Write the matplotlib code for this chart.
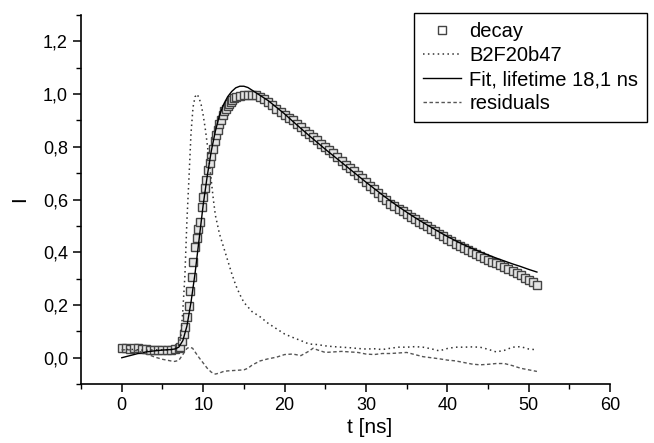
import matplotlib
matplotlib.use("Agg")
import matplotlib.pyplot as plt
import numpy as np
from matplotlib.ticker import MultipleLocator

plt.rcParams['font.family'] = ['Liberation Sans', 'DejaVu Sans']
plt.rcParams['font.size'] = 13

# decay data (open squares)
decay_flat = [0.035, 0.036, 0.034, 0.037, 0.035, 0.033, 0.034, 0.031,
              0.030, 0.029, 0.030, 0.031, 0.030, 0.032, 0.035]
decay_rise = [0.042, 0.062, 0.09, 0.118, 0.155, 0.198, 0.255, 0.305, 0.365,
              0.42, 0.455, 0.49, 0.515, 0.57, 0.61, 0.645, 0.675, 0.712,
              0.74, 0.765, 0.79, 0.822, 0.845, 0.865, 0.885, 0.902, 0.92,
              0.935, 0.944, 0.955, 0.963, 0.972, 0.978, 0.984, 0.988]
decay_tail = [0.994, 0.996, 0.997, 0.998, 0.995, 0.988, 0.982, 0.972, 0.96,
              0.945, 0.932, 0.92, 0.91, 0.90, 0.887, 0.875, 0.862, 0.85,
              0.838, 0.825, 0.812, 0.80, 0.788, 0.775, 0.76, 0.745, 0.733,
              0.72, 0.707, 0.695, 0.68, 0.665, 0.652, 0.64, 0.625, 0.61,
              0.597, 0.585, 0.575, 0.565, 0.555, 0.545, 0.535, 0.525, 0.516,
              0.507, 0.498, 0.49, 0.48, 0.47, 0.46, 0.45, 0.441, 0.433,
              0.425, 0.418, 0.409, 0.40, 0.392, 0.385, 0.378, 0.372, 0.365,
              0.358, 0.35, 0.343, 0.335, 0.328, 0.32, 0.312, 0.303, 0.295,
              0.286, 0.277]
decay_t = np.concatenate([np.arange(0, 7.01, 0.5),
                          np.arange(7.2, 14.01, 0.2),
                          np.arange(14.5, 51.01, 0.5)])
decay = decay_flat + decay_rise + decay_tail

# instrument response B2F20b47 (dotted)
irf_t = [0, 1, 2, 3, 4, 5, 6, 6.5, 7, 7.25, 7.5, 7.75, 8, 8.25, 8.5, 8.75,
         9, 9.25, 9.5, 9.75, 10, 10.25, 10.5, 10.75, 11, 11.25, 11.5, 12,
         12.5, 13, 13.5, 14, 14.5, 15] + list(range(16, 52))
irf = [0.03, 0.032, 0.03, 0.028, 0.03, 0.03, 0.03, 0.032, 0.045,
       0.08, 0.18, 0.31, 0.52, 0.68, 0.85, 0.95, 0.99, 1.0, 0.985, 0.96,
       0.92, 0.87, 0.81, 0.74, 0.67, 0.60, 0.54,
       0.47, 0.42, 0.37, 0.32, 0.275, 0.24, 0.21,
       0.175, 0.155, 0.13, 0.11, 0.09, 0.077, 0.065, 0.052, 0.05, 0.045,
       0.042, 0.04, 0.038, 0.035, 0.033, 0.034, 0.031, 0.036, 0.04, 0.04,
       0.042, 0.04, 0.034, 0.026, 0.035, 0.04, 0.04, 0.041, 0.04, 0.032,
       0.022, 0.028, 0.04, 0.042, 0.033, 0.03]

# fit, lifetime 18,1 ns (solid)
fit_t = [0, 1, 2, 3, 4, 5, 6, 6.5, 7, 7.5, 8, 8.5, 9, 9.5, 10, 10.5, 11,
         11.5, 12, 12.5, 13, 13.5, 14, 14.5, 15, 15.5, 16] + list(range(17, 52))
fit = [0.0, 0.008, 0.016, 0.022, 0.026, 0.029, 0.031, 0.033, 0.04, 0.065,
       0.12, 0.21, 0.32, 0.45, 0.58, 0.69, 0.785, 0.86, 0.92, 0.96, 0.99,
       1.01, 1.024, 1.03, 1.03, 1.025, 1.015,
       0.995, 0.975, 0.95, 0.925, 0.897, 0.87, 0.843, 0.817, 0.791, 0.766,
       0.741, 0.716, 0.691, 0.666, 0.642, 0.618, 0.595, 0.573, 0.552, 0.532,
       0.513, 0.495, 0.477, 0.46, 0.444, 0.429, 0.415, 0.402, 0.39, 0.378,
       0.367, 0.356, 0.346, 0.335, 0.325]

# residuals (dashed)
res_t = [0, 1, 2, 3, 4, 5, 6, 6.5, 7, 7.5, 8, 8.3, 8.7, 9, 9.5, 10, 10.5,
         11, 11.5, 12, 12.5, 13, 14, 15, 15.5, 16, 17, 18, 19, 20, 21, 22,
         23, 23.5] + list(range(24, 52))
res = [0.03, 0.03, 0.026, 0.015, 0.003, -0.006, -0.012,
       -0.014, -0.01, 0.012, 0.035, 0.04, 0.036, 0.022, 0.0, -0.02, -0.04,
       -0.055, -0.062, -0.058, -0.052, -0.05,
       -0.048, -0.046, -0.04, -0.028, -0.012, -0.004, 0.002, 0.012, 0.014,
       0.008, 0.025, 0.036,
       0.03, 0.02, 0.022, 0.024, 0.022, 0.02, 0.014, 0.012, 0.016, 0.016,
       0.018, 0.02, 0.012, 0.004, 0.0, -0.004, -0.009, -0.012, -0.018,
       -0.024, -0.027, -0.025, -0.022, -0.022, -0.03, -0.04, -0.046, -0.052]

y_ticks = [0.0, 0.2, 0.4, 0.6, 0.8, 1.0, 1.2]
y_tick_labels = ["0,0", "0,2", "0,4", "0,6", "0,8", "1,0", "1,2"]
x_ticks = [0, 10, 20, 30, 40, 50, 60]

fig = plt.figure(figsize=(6.54, 4.43), dpi=100)
ax = fig.add_axes([0.124, 0.133, 0.809, 0.833])

ax.plot(decay_t, decay, "s", ms=6.2, mfc="#e4e4e4", mec="#444444", mew=1.0,
        label="decay")
ax.plot(irf_t, irf, color="#333333", lw=1.1, ls=(0, (1, 2.2)),
        label="B2F20b47")
ax.plot(fit_t, fit, color="black", lw=1.0, label="Fit, lifetime 18,1 ns")
ax.plot(res_t, res, color="#555555", lw=1.0, ls=(0, (2.5, 1.8)),
        label="residuals")

ax.set_xlim(-5, 60)
ax.set_ylim(-0.1, 1.3)
ax.set_xticks(x_ticks)
ax.set_yticks(y_ticks)
ax.set_yticklabels(y_tick_labels)
ax.xaxis.set_minor_locator(MultipleLocator(5))
ax.yaxis.set_minor_locator(MultipleLocator(0.1))
ax.tick_params(which="major", direction="out", length=6, width=1.1)
ax.tick_params(which="minor", direction="out", length=3.5, width=1.0)
for s in ["top", "right"]:
    ax.spines[s].set_visible(False)
for s in ["left", "bottom"]:
    ax.spines[s].set_linewidth(1.2)

ax.set_xlabel("t [ns]", fontsize=15)
ax.xaxis.set_label_coords(0.546, -0.092)
ax.set_ylabel("I", fontsize=15, labelpad=10)

leg = ax.legend(loc="upper left", bbox_to_anchor=(414 / 654, 1 - 13 / 443),
                bbox_transform=fig.transFigure, borderaxespad=0,
                fancybox=False, framealpha=1, edgecolor="black",
                handlelength=1.9, handletextpad=0.4, labelspacing=0.25,
                borderpad=0.45, fontsize=14.5)
leg.legend_handles[0].set_markerfacecolor("white")
leg.get_frame().set_linewidth(1.0)

fig.savefig("out.png", dpi=100)
